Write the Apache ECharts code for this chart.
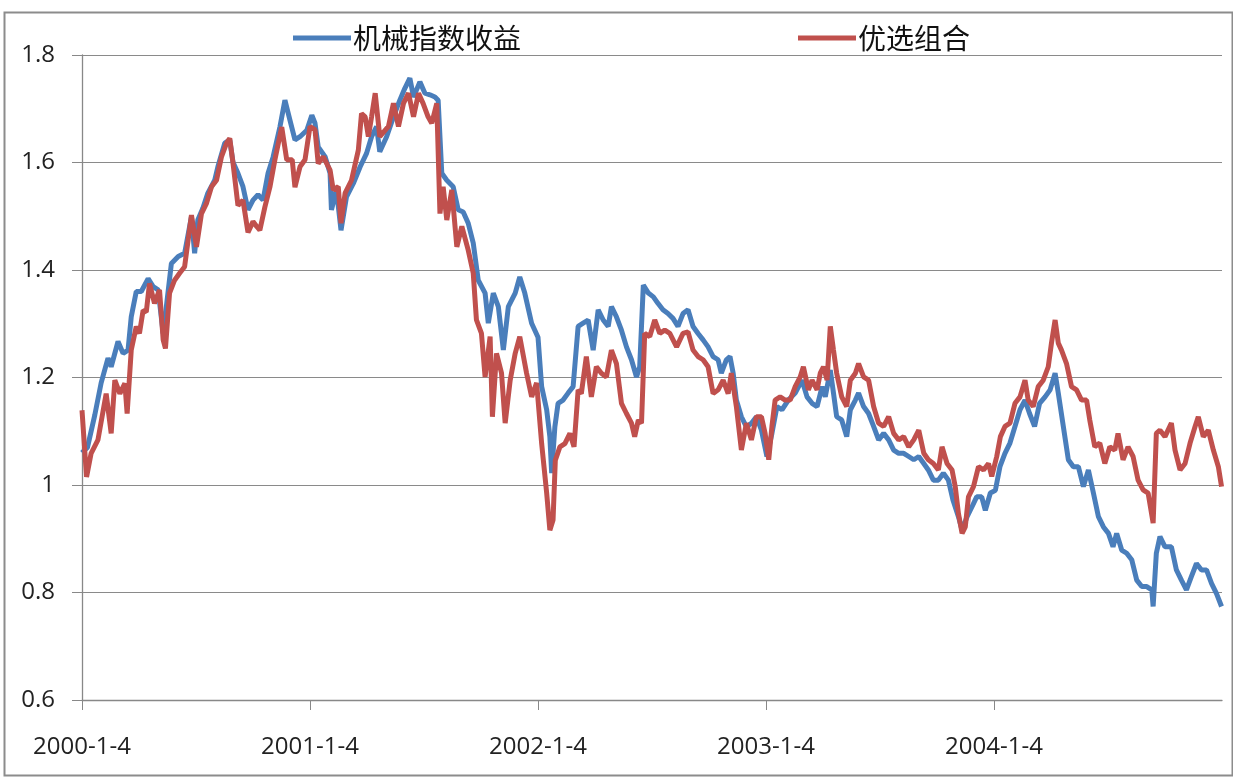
<!DOCTYPE html>
<html><head><meta charset="utf-8">
<script src="https://cdn.jsdelivr.net/npm/echarts@6/dist/echarts.min.js"></script>
<style>html,body{margin:0;padding:0;background:#fff}#c{width:1233px;height:777px}</style>
</head><body><div id="c"></div>
<script>
// x position in "year units": 50 units per year, 0 = 2000-1-4
const yearTicks = [0, 50, 100, 150, 200];
const tickLabels = ['2000-1-4', '2001-1-4', '2002-1-4', '2003-1-4', '2004-1-4'];
const seriesNames = ['机械指数收益', '优选组合'];

const mechIndex = [[0,1.06],[1.2,1.07],[2.8,1.13],[4.2,1.19],[5.7,1.236],[6.4,1.22],[7.9,1.267],[9.0,1.245],[10.1,1.251],[10.8,1.313],[11.9,1.36],[13.0,1.36],[14.5,1.384],[15.6,1.369],[16.7,1.363],[17.8,1.282],[18.5,1.332],[19.6,1.412],[21.1,1.425],[22.5,1.431],[24.0,1.499],[24.7,1.431],[25.4,1.493],[26.5,1.515],[27.6,1.543],[29.1,1.567],[29.8,1.592],[31.3,1.636],[32.4,1.642],[33.1,1.601],[34.2,1.58],[35.3,1.555],[36.4,1.512],[37.5,1.53],[38.6,1.54],[39.7,1.53],[40.8,1.58],[41.9,1.61],[43.4,1.666],[44.5,1.716],[45.6,1.679],[46.7,1.642],[47.8,1.648],[49.3,1.66],[50.4,1.688],[51.1,1.673],[51.8,1.629],[53.3,1.611],[54.4,1.58],[54.7,1.512],[55.8,1.549],[56.8,1.474],[58.0,1.536],[59.5,1.561],[61.0,1.592],[62.4,1.617],[63.5,1.648],[64.6,1.667],[65.3,1.62],[66.8,1.648],[68.3,1.685],[69.7,1.716],[70.8,1.738],[71.9,1.757],[72.7,1.722],[74.1,1.75],[75.2,1.729],[76.3,1.726],[77.4,1.722],[78.1,1.716],[78.9,1.58],[80.0,1.567],[81.4,1.555],[82.5,1.512],[83.6,1.508],[84.7,1.487],[85.8,1.45],[86.9,1.381],[88.4,1.357],[89.1,1.301],[90.2,1.357],[91.3,1.332],[92.4,1.251],[93.5,1.332],[95.0,1.357],[96.0,1.387],[97.1,1.357],[98.6,1.301],[100.0,1.275],[100.8,1.183],[101.9,1.14],[102.6,1.09],[103.0,1.022],[103.7,1.108],[104.4,1.152],[105.5,1.158],[106.6,1.171],[107.7,1.183],[108.8,1.295],[109.9,1.301],[111.0,1.307],[112.1,1.251],[113.2,1.326],[114.3,1.307],[115.4,1.295],[116.1,1.332],[117.2,1.313],[118.3,1.288],[119.4,1.257],[120.5,1.233],[121.6,1.201],[122.3,1.22],[123.1,1.372],[124.2,1.357],[125.3,1.35],[126.3,1.338],[127.4,1.326],[128.5,1.319],[129.6,1.31],[130.7,1.295],[131.8,1.319],[132.9,1.326],[134.0,1.295],[135.1,1.282],[136.2,1.27],[137.3,1.257],[138.4,1.239],[139.5,1.233],[140.2,1.208],[141.3,1.233],[142.1,1.239],[142.8,1.208],[143.5,1.158],[144.6,1.127],[145.7,1.108],[146.8,1.115],[147.9,1.127],[149.0,1.102],[150.2,1.053],[151.3,1.096],[152.4,1.146],[153.5,1.14],[154.9,1.158],[156.4,1.171],[157.9,1.195],[159.0,1.164],[160.1,1.152],[161.2,1.146],[162.3,1.183],[163.0,1.164],[164.1,1.214],[164.8,1.171],[165.5,1.127],[166.6,1.121],[167.7,1.09],[168.5,1.14],[169.6,1.158],[170.3,1.171],[171.4,1.146],[172.5,1.133],[173.6,1.109],[174.7,1.084],[175.8,1.096],[176.9,1.084],[178.0,1.065],[179.1,1.059],[180.2,1.059],[181.3,1.053],[182.4,1.047],[183.5,1.053],[184.6,1.04],[185.6,1.028],[186.7,1.009],[187.8,1.009],[188.9,1.022],[190.0,1.009],[191.0,0.972],[192.2,0.941],[193.0,0.916],[194.1,0.941],[195.2,0.96],[196.2,0.978],[197.3,0.978],[198.1,0.953],[199.2,0.985],[200.3,0.99],[201.3,1.034],[202.4,1.059],[203.5,1.078],[204.6,1.109],[205.7,1.14],[206.8,1.158],[207.8,1.133],[208.9,1.109],[210.0,1.152],[211.2,1.164],[212.3,1.177],[213.4,1.208],[214.1,1.171],[215.2,1.109],[216.3,1.047],[217.4,1.034],[218.5,1.034],[219.6,0.997],[220.7,1.028],[221.8,0.985],[222.9,0.941],[224.0,0.922],[225.1,0.91],[226.1,0.885],[226.9,0.91],[228.0,0.879],[229.1,0.873],[230.2,0.861],[231.3,0.823],[232.4,0.811],[233.5,0.811],[234.6,0.805],[234.9,0.774],[235.6,0.873],[236.4,0.904],[237.5,0.885],[238.9,0.885],[240.0,0.842],[241.1,0.823],[242.2,0.805],[243.3,0.83],[244.4,0.854],[245.5,0.842],[246.6,0.842],[247.7,0.817],[248.8,0.798],[249.9,0.774]];

const bestPortfolio = [[0,1.139],[1.0,1.015],[2.0,1.059],[3.5,1.084],[5.3,1.17],[6.4,1.096],[7.2,1.195],[8.3,1.17],[9.4,1.189],[9.9,1.133],[10.8,1.251],[11.9,1.295],[12.6,1.282],[13.4,1.325],[14.1,1.322],[14.8,1.375],[15.9,1.338],[17.0,1.363],[17.8,1.27],[18.3,1.254],[19.2,1.357],[20.3,1.381],[21.4,1.394],[22.5,1.406],[24.0,1.502],[25.1,1.443],[26.2,1.505],[27.3,1.524],[28.4,1.555],[29.5,1.567],[30.6,1.611],[31.7,1.636],[32.4,1.645],[33.1,1.60],[34.2,1.52],[35.3,1.53],[36.4,1.47],[37.5,1.49],[38.4,1.48],[39.0,1.474],[40.1,1.517],[41.2,1.554],[42.3,1.605],[43.8,1.666],[44.9,1.605],[46.1,1.605],[46.7,1.554],[47.8,1.592],[48.9,1.605],[50.0,1.667],[51.1,1.661],[51.8,1.598],[52.9,1.611],[54.4,1.586],[55.1,1.549],[56.2,1.555],[56.8,1.487],[57.7,1.543],[59.1,1.567],[60.6,1.623],[61.3,1.691],[62.1,1.685],[62.8,1.648],[63.5,1.685],[64.3,1.729],[65.3,1.648],[67.2,1.667],[68.3,1.71],[69.4,1.667],[70.5,1.71],[71.6,1.729],[72.7,1.685],[73.8,1.729],[74.8,1.71],[75.9,1.685],[76.7,1.673],[77.8,1.71],[78.5,1.505],[79.2,1.555],[80.0,1.493],[81.1,1.549],[82.2,1.443],[83.3,1.481],[84.7,1.437],[85.8,1.394],[86.5,1.307],[87.6,1.282],[88.4,1.201],[89.5,1.276],[90.0,1.127],[90.9,1.245],[92.0,1.208],[92.8,1.115],[93.9,1.195],[95.0,1.245],[96.0,1.276],[97.5,1.208],[98.6,1.164],[99.7,1.19],[100.8,1.077],[101.9,0.985],[102.6,0.916],[103.3,0.935],[103.8,1.046],[104.8,1.071],[105.9,1.077],[107.0,1.096],[107.9,1.071],[108.8,1.177],[109.5,1.17],[110.6,1.239],[111.7,1.164],[112.8,1.22],[113.9,1.208],[115.0,1.201],[116.1,1.251],[117.2,1.226],[118.3,1.152],[119.4,1.133],[120.5,1.115],[121.2,1.09],[122.0,1.121],[122.7,1.115],[123.4,1.282],[124.5,1.276],[125.6,1.307],[126.7,1.282],[127.8,1.288],[128.9,1.282],[130.4,1.257],[131.8,1.282],[132.9,1.285],[134.0,1.251],[135.1,1.239],[136.2,1.233],[137.3,1.22],[138.4,1.17],[139.5,1.177],[140.6,1.195],[141.7,1.17],[142.4,1.208],[143.5,1.146],[144.6,1.065],[145.7,1.115],[146.8,1.084],[147.9,1.127],[149.0,1.127],[149.8,1.096],[150.6,1.047],[151.3,1.109],[152.0,1.158],[153.1,1.164],[154.2,1.158],[155.3,1.158],[156.4,1.183],[157.5,1.201],[158.2,1.22],[159.3,1.177],[160.1,1.195],[161.2,1.177],[161.9,1.208],[162.6,1.22],[163.4,1.195],[164.1,1.295],[164.8,1.251],[165.5,1.208],[166.6,1.164],[167.7,1.146],[168.5,1.195],[169.6,1.208],[170.3,1.226],[171.4,1.201],[172.5,1.195],[173.6,1.146],[174.7,1.115],[175.8,1.109],[176.9,1.127],[178.0,1.096],[179.1,1.084],[180.2,1.09],[181.3,1.071],[182.4,1.084],[183.5,1.102],[184.6,1.059],[185.6,1.047],[186.7,1.04],[187.8,1.028],[188.6,1.071],[189.7,1.04],[190.8,1.028],[191.5,0.997],[192.2,0.947],[193.0,0.91],[193.7,0.922],[194.4,0.978],[195.5,0.997],[196.6,1.034],[197.7,1.028],[198.8,1.04],[199.5,1.016],[200.6,1.053],[201.4,1.09],[202.4,1.109],[203.5,1.115],[204.6,1.152],[205.7,1.164],[206.8,1.195],[207.5,1.158],[208.6,1.146],[209.7,1.183],[210.8,1.195],[211.9,1.22],[212.6,1.264],[213.4,1.307],[214.1,1.264],[214.8,1.251],[215.9,1.226],[217.0,1.183],[218.1,1.177],[219.2,1.158],[220.3,1.158],[221.0,1.121],[222.1,1.071],[223.2,1.078],[224.3,1.04],[225.4,1.071],[226.5,1.065],[227.2,1.096],[228.3,1.047],[229.4,1.071],[230.5,1.053],[231.6,1.009],[232.7,0.991],[233.8,0.985],[234.9,0.929],[235.6,1.096],[236.4,1.102],[237.5,1.09],[238.9,1.115],[239.7,1.065],[240.8,1.028],[241.9,1.04],[243.0,1.078],[244.1,1.109],[244.8,1.127],[245.9,1.09],[247.0,1.102],[248.1,1.065],[249.2,1.034],[249.9,0.997]];

const chart = echarts.init(document.getElementById('c'), null, {renderer: 'canvas'});
const txt = {fontFamily: '"Open Sans","Noto Sans CJK SC",sans-serif', color: '#222'};
chart.setOption({
  backgroundColor: '#fff',
  animation: false,
  graphic: [{
    type: 'rect', left: 2, top: 10,
    shape: {width: 1228, height: 763},
    style: {fill: 'none', stroke: '#8c8c8c', lineWidth: 2}, silent: true
  }],
  legend: {
    left: 288, top: 19, itemGap: 277, itemWidth: 58, itemHeight: 5,
    icon: 'rect',
    textStyle: {fontSize: 28, fontFamily: '"Noto Sans CJK SC",sans-serif', color: '#111', padding: [0,0,0,-3]},
    data: seriesNames
  },
  grid: {left: 82, right: 11, top: 55, bottom: 77, containLabel: false},
  xAxis: {
    type: 'value', min: 0, max: 250, interval: 50,
    axisLine: {show: true, lineStyle: {color: '#888', width: 1.3}},
    axisTick: {show: true, length: 10, lineStyle: {color: '#888'}, customValues: yearTicks},
    splitLine: {show: false},
    axisLabel: {
      margin: 35, fontSize: 24, ...txt, customValues: yearTicks,
      formatter: v => tickLabels[yearTicks.indexOf(Math.round(v))] || ''
    }
  },
  yAxis: {
    type: 'value', min: 0.6, max: 1.8, interval: 0.2,
    axisLine: {show: true, lineStyle: {color: '#888', width: 1.3}},
    axisTick: {show: true, length: 10, lineStyle: {color: '#888'}},
    splitLine: {show: true, lineStyle: {color: '#8a8a8a', width: 1.2}},
    axisLabel: {margin: 27, fontSize: 24, ...txt, formatter: v => String(Math.round(v * 10) / 10)}
  },
  series: [
    {name: seriesNames[0], type: 'line', data: mechIndex, showSymbol: false, symbol: 'none',
     lineStyle: {color: '#4a7ebb', width: 5}, itemStyle: {color: '#4a7ebb'}},
    {name: seriesNames[1], type: 'line', data: bestPortfolio, showSymbol: false, symbol: 'none',
     lineStyle: {color: '#c0504d', width: 5}, itemStyle: {color: '#c0504d'}}
  ]
});
</script></body></html>
